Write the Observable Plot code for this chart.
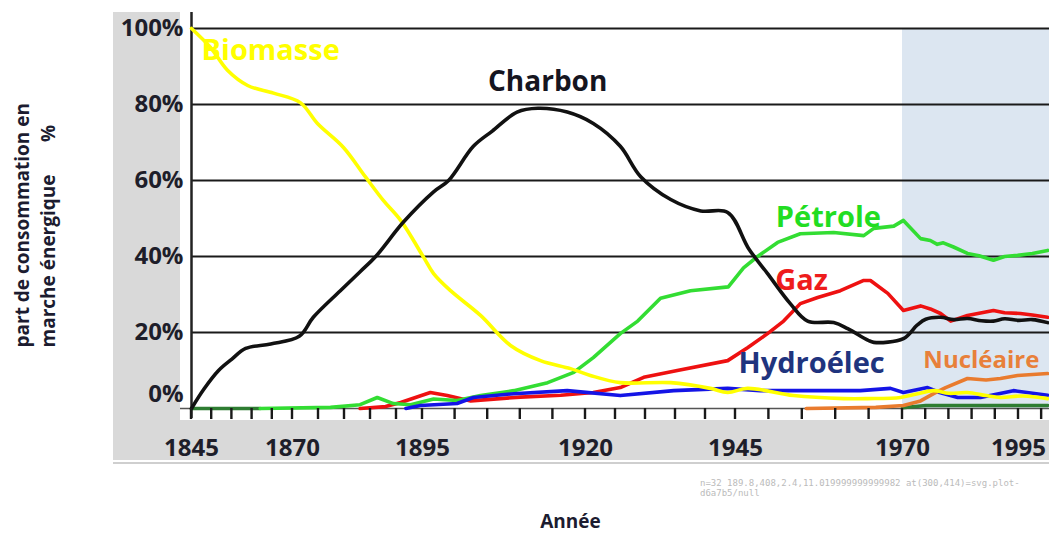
<!DOCTYPE html>
<html><head><meta charset="utf-8">
<script src="https://cdn.jsdelivr.net/npm/d3@7"></script>
<script src="https://cdn.jsdelivr.net/npm/@observablehq/plot@0.6"></script>
<style>
body{margin:0;background:#fff;}
#wrap{position:relative;width:1049px;height:536px;overflow:hidden;background:#fff;}
.bg{position:absolute;background:#d9d9d9;}
#chart{position:absolute;left:0;top:0;z-index:2;}
#dbg{position:absolute;left:700px;top:478px;width:345px;font:9px monospace;color:#bbb;white-space:pre-wrap;margin:0;z-index:3;}
</style></head><body>
<div id="wrap">
<div class="bg" style="left:113px;top:12px;width:67px;height:448px"></div>
<div class="bg" style="left:113px;top:420px;width:936px;height:40px"></div>
<div class="bg" style="left:113px;top:462px;width:936px;height:2px;background:#cfcfcf"></div>
<div id="chart"></div>
<pre id="dbg"></pre>
</div>
<script>
// ---- data (year, % share of energy consumption) ----
const labelYears = [1845, 1870, 1895, 1920, 1945, 1970, 1995];
const minorYears = [1845,1850,1855,1860,1865,1870,1875,1880,1885,1890,1895,1900,1905,1910,1915,1920,1925,1930,1935,1940,1945,1950,1955,1960,1965,1970,1975,1980,1985,1990,1995,2000];
const yTicks = [20, 40, 60, 80, 100];
const yZero = [0];
const gridValues = [20, 40, 60, 80, 100];
const shadedPeriod = [{start: 1970, end: 2001.7}];

const biomasse = [[1845,100],[1849.7,95],[1853.9,89],[1858.9,85],[1865.3,83],[1871.5,80.5],[1874.8,75],[1879.8,68.7],[1884,61],[1887.5,54.7],[1890.8,49.5],[1895.2,39.7],[1896.7,35.5],[1899.3,31],[1903.9,24.5],[1908.5,16.6],[1913.1,12.6],[1917.7,10.5],[1920.8,8.7],[1925.8,6.8],[1934.2,6.8],[1940.8,5.3],[1943.7,4.2],[1946.8,5.3],[1953.7,3.4],[1961.2,2.6],[1964.8,2.6],[1969.7,2.9],[1973,3.8],[1976.7,4.7],[1980,4.0],[1984,4.2],[1988,3.4],[1991.1,2.9],[1996,3.3],[2001.3,2.6]];
const charbon = [[1845,0],[1848,5],[1851.7,10],[1855,13],[1858.4,15.8],[1864.6,17],[1871.3,19],[1874,24],[1879.2,31],[1883,36],[1886,40],[1891.3,49],[1896.7,57],[1899,60],[1902.8,69],[1905.7,73],[1909.5,78],[1912.7,79],[1917.2,78],[1921.3,75],[1925.8,69],[1929.2,61],[1934.2,55],[1939.2,52],[1943.7,51.6],[1947,42],[1949.8,35.5],[1953.2,27.6],[1955.8,23],[1959.7,22.6],[1961.8,21],[1964.8,18],[1965.7,17.4],[1970.2,18.4],[1973.2,22],[1975,23.5],[1978.2,24],[1981,23.4],[1984,23.7],[1987,23.1],[1989.6,23],[1992,23.6],[1995,23.2],[1998,23.4],[2001.3,22.6]];
const petrole = [[1862,0],[1877.3,0.3],[1883,1.0],[1886.3,2.9],[1889.4,1.3],[1892.7,1.0],[1896.7,2.5],[1900.3,2.1],[1903.9,3.4],[1909,4.7],[1914.2,6.8],[1918.2,9.5],[1921.3,13.4],[1925.8,19.7],[1928.7,23],[1932.5,29],[1937.5,31],[1943.8,32],[1946.2,37],[1948.3,40],[1951.3,43.7],[1954.7,46],[1959.7,46.3],[1964.2,45.5],[1965.7,47.4],[1968.7,48],[1970.2,49.5],[1973.9,44.7],[1976,44.2],[1977.5,43.2],[1978.8,43.6],[1981,42.5],[1984,40.8],[1986.5,40.2],[1989.6,39],[1992,40],[1994.8,40.3],[1998,40.8],[2001.3,41.6]];
const gaz = [[1883,0],[1887.9,0.5],[1890.8,1.6],[1896.2,4.2],[1898.8,3.4],[1902.4,2.0],[1910,3.0],[1916.2,3.5],[1921.3,4.2],[1925.8,5.5],[1929.7,8.2],[1935.3,10],[1943.7,12.6],[1946.8,16],[1949.8,19.7],[1952.2,23],[1954.7,27.6],[1957.3,29.2],[1960.7,31],[1964.2,33.7],[1965.2,33.7],[1967.8,30.3],[1970.2,25.8],[1973.9,27],[1976,26.2],[1978.2,25],[1980.4,23],[1984,24.5],[1989.6,25.8],[1992,25.2],[1995.4,25],[1998,24.6],[2001.3,24]];
const hydro = [[1891.8,0],[1894.6,0.8],[1900.3,1.3],[1902.8,2.9],[1909,3.9],[1917.2,4.7],[1925.8,3.4],[1934.7,4.7],[1943.7,5.3],[1948.7,4.7],[1953.7,4.7],[1963.7,4.7],[1968.2,5.3],[1970.2,4.2],[1975.4,5.5],[1978,4.2],[1981.9,2.9],[1986.8,2.9],[1993.9,4.7],[2001.3,3.5]];
const nucleaire = [[1955.6,0],[1966,0.3],[1970.2,0.8],[1973.9,2],[1976.7,3.9],[1979.3,5.5],[1984,7.9],[1988,7.5],[1991.1,7.9],[1994.8,8.7],[2001.3,9.2]];
const autres = [[1845,0],[1862,0],[1863,null],[1970,0.2],[1975,0.8],[2001.3,0.8]];

const seriesLabels = [
  {name: "Biomasse", year: 1864.6, value: 94.2},
  {name: "Charbon", year: 1914.2, value: 85.8},
  {name: "Pétrole", year: 1958.9, value: 50.3},
  {name: "Gaz", year: 1954.9, value: 33.7},
  {name: "Hydroélec", year: 1956.4, value: 11.8},
  {name: "Nucléaire", year: 1987, value: 12.6}
];

// ---- styles ----
const lineStyle = [
  [autres, "#2e7d32", "linear"],
  [gaz, "#ee1111", "linear"],
  [petrole, "#33dd33", "linear"],
  [hydro, "#1414e6", "linear"],
  [nucleaire, "#e97b2e", "linear"],
  [biomasse, "#ffff00", "catmull-rom"],
  [charbon, "#111111", "catmull-rom"]
];
const labelStyle = {
  "Biomasse": {fill: "#ffff00", size: 29},
  "Charbon": {fill: "#15151f", size: 28},
  "Pétrole": {fill: "#22dd22", size: 29},
  "Gaz": {fill: "#ee1c1c", size: 29},
  "Hydroélec": {fill: "#1f347e", size: 29},
  "Nucléaire": {fill: "#e8803a", size: 24}
};

const marks = [
  Plot.rect(shadedPeriod, {x1: d => d.start, x2: d => d.end, y1: () => 0, y2: () => 100, fill: "#dce6f1"}),
  Plot.ruleY(gridValues, {stroke: "#1a1a1a", strokeWidth: 2.2}),
  Plot.ruleY([0], {stroke: "#555", strokeWidth: 1.5, insetLeft: -11}),
  Plot.ruleX([1845], {stroke: "#222", strokeWidth: 2.5, insetTop: -16, insetBottom: -10}),
  Plot.axisY(yTicks, {tickSize: 0, tickPadding: 8, tickFormat: d => d + "%", label: null}),
  Plot.axisY(yZero, {tickSize: 0, tickPadding: 8, tickFormat: d => d + "%", label: null, dy: -14}),
  Plot.axisX(labelYears, {tickSize: 0, tickPadding: 30, tickFormat: d => String(d), label: null})
];
for (const [data, color, curve] of lineStyle) {
  marks.push(Plot.line(data, {x: d => d[0], y: d => d[1], stroke: color, strokeWidth: 3.6, curve, strokeLinejoin: "round", strokeLinecap: "round"}));
}
for (const l of seriesLabels) {
  const s = labelStyle[l.name];
  marks.push(Plot.text([l], {x: "year", y: "value", text: "name", fill: s.fill, fontSize: s.size, fontWeight: "bold", textAnchor: "middle", lineAnchor: "middle"}));
}
// axis titles
marks.push(Plot.text(["part de consommation en"], {frameAnchor: "bottom-left", rotate: -90, textAnchor: "start", lineAnchor: "middle", dx: -169, dy: -61, fontSize: 19, fontWeight: "bold", fill: "#1c1c30"}));
marks.push(Plot.text(["marche énergique"], {frameAnchor: "bottom-left", rotate: -90, textAnchor: "start", lineAnchor: "middle", dx: -143, dy: -61, fontSize: 19, fontWeight: "bold", fill: "#1c1c30"}));
marks.push(Plot.text(["%"], {frameAnchor: "bottom-left", rotate: -90, textAnchor: "middle", lineAnchor: "middle", dx: -143, dy: -275, fontSize: 19, fontWeight: "bold", fill: "#1c1c30"}));
marks.push(Plot.text(["Année"], {frameAnchor: "bottom", lineAnchor: "middle", dx: -50, dy: 113, fontSize: 19, fontWeight: "bold", fill: "#1c1c30"}));
// minor x tick marks as thin filled rects, drawn last
marks.push(Plot.rect(minorYears, {x1: d => d, x2: d => d, y1: () => 0, y2: () => -2.9, insetLeft: -1.2, insetRight: -1.2, fill: "#1a1a1a"}));

const chart = Plot.plot({
  width: 1049,
  height: 536,
  marginLeft: 191,
  marginRight: 0,
  marginTop: 28,
  marginBottom: 128,
  style: {fontFamily: "'Open Sans', sans-serif", fontSize: "24px", fontWeight: "bold", color: "#1e1e2a", background: "none", overflow: "visible"},
  x: {type: "linear", domain: [1845, 1870, 1895, 1920, 1945, 1970, 1995, 2001.7], range: [191, 292, 422, 585, 735, 902, 1018, 1049], label: null},
  y: {domain: [0, 100], label: null},
  marks
});
document.getElementById("chart").appendChild(chart);
try {
  const rects = chart.querySelectorAll('g[aria-label="rect"]');
  const last = rects[rects.length - 1];
  const r0 = last ? last.querySelector("rect") : null;
  const el = document.elementFromPoint(300, 414);
  document.getElementById("dbg").textContent = "n=" + (last ? last.children.length : 0) + " " + (r0 ? ["x","y","width","height"].map(a => r0.getAttribute(a)).join(",") : "none") + " at(300,414)=" + (el ? el.tagName + "." + (el.getAttribute("class") || "") + (el.parentNode && el.parentNode.getAttribute ? "/" + el.parentNode.getAttribute("aria-label") : "") : "null");
} catch (e) { document.getElementById("dbg").textContent = String(e); }
</script>
</body></html>
